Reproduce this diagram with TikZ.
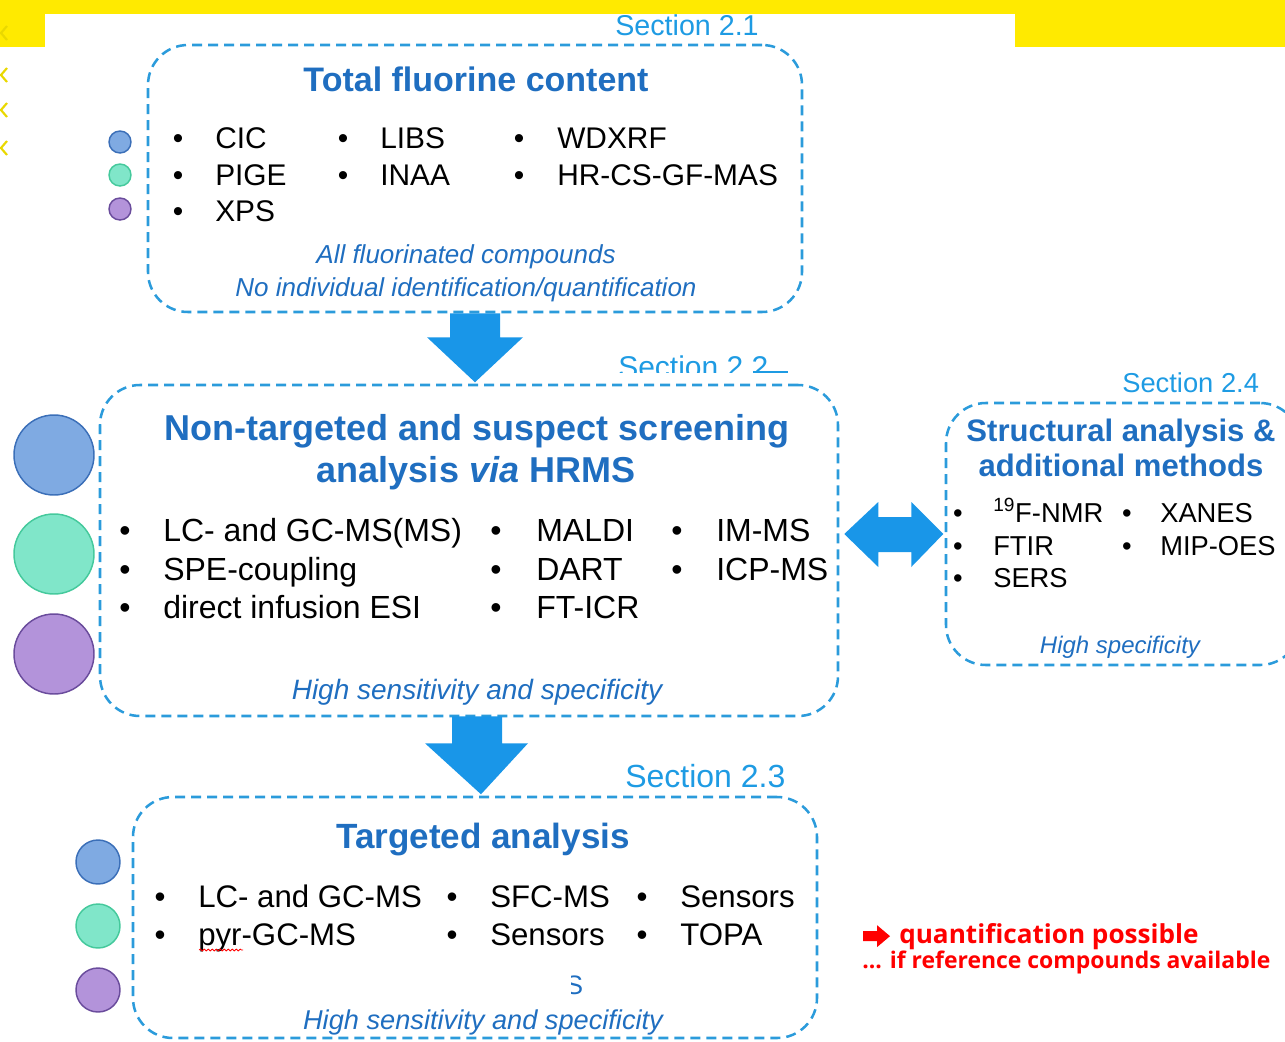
\documentclass[tikz,border=0pt]{standalone}
\usepackage{fontspec}
\setmainfont{Liberation Sans}
\newfontfamily\redfont{Open Sans}
\usetikzlibrary{decorations.pathmorphing}
\definecolor{dashblue}{HTML}{2B9BDB}
\definecolor{titleblue}{HTML}{1F6EC0}
\definecolor{secblue}{HTML}{1E9BE3}
\definecolor{arrowblue}{HTML}{1996E8}
\definecolor{headyellow}{HTML}{FFEA00}
\definecolor{ychev}{HTML}{E9D800}
\definecolor{cAfill}{HTML}{7FAAE2}\definecolor{cAline}{HTML}{3B6FB8}
\definecolor{cBfill}{HTML}{80E6C9}\definecolor{cBline}{HTML}{45C99C}
\definecolor{cCfill}{HTML}{B393DA}\definecolor{cCline}{HTML}{6A4C9C}
\begin{document}
\begin{tikzpicture}[x=0.75pt,y=-0.75pt,
  box/.style={draw=dashblue, line width=1.9pt, dash pattern=on 7.5pt off 4.5pt,
    rounded corners=30pt, rectangle, inner sep=0pt},
  sec/.style={text=secblue, font=\fontsize{21.5}{26}\selectfont, anchor=base west, inner sep=0pt},
  ttl/.style={text=titleblue, anchor=base, inner sep=0pt},
  ital/.style={text=titleblue, anchor=base, inner sep=0pt},
  itm/.style={anchor=base west, inner sep=0pt},
  bul/.style={anchor=base, inner sep=0pt},
  dotA/.style={circle, inner sep=0pt, fill=cAfill, draw=cAline, line width=1.1pt},
  dotB/.style={circle, inner sep=0pt, fill=cBfill, draw=cBline, line width=1.1pt},
  dotC/.style={circle, inner sep=0pt, fill=cCfill, draw=cCline, line width=1.1pt},
  fA/.style={font=\fontsize{22.4}{26}\selectfont},
  fB/.style={font=\fontsize{24}{28}\selectfont},
  fC/.style={font=\fontsize{23.4}{28}\selectfont},
  fD/.style={font=\fontsize{20.5}{24}\selectfont},
  blockarrow/.style={fill=arrowblue, draw=none}
]
\useasboundingbox (0,0) rectangle (1285,1042);
\clip (0,0) rectangle (1285,1042);

% yellow header
\fill[fill=headyellow] (0,0) rectangle (1285,14);
\fill[fill=headyellow] (0,0) rectangle (45,47);
\fill[fill=headyellow] (1015,0) rectangle (1285,47);
\foreach \yy in {33,75,110,148}
  \draw[draw=ychev, line width=1.6pt] (7,\yy-7) -- (1,\yy) -- (7,\yy+7);

% ---------------- Box 1
\node[box, minimum width=490.5pt, minimum height=200.25pt] (b1) at (475,178.5) {};
\node[sec] (s1) at (615,36) {Section 2.1};
\node[ttl, font=\bfseries\fontsize{25.5}{30}\selectfont] (t1) at (476,91) {Total fluorine content};
\begin{scope}[every node/.append style={fA}]
\node[bul] at (178,148) {•}; \node[itm] (cic) at (215,148) {CIC};
\node[bul] at (343,148) {•}; \node[itm] (libs) at (380,148) {LIBS};
\node[bul] at (519,148) {•}; \node[itm] (wdx) at (557,148) {WDXRF};
\node[bul] at (178,185) {•}; \node[itm] (pige) at (215,185) {PIGE};
\node[bul] at (343,185) {•}; \node[itm] (inaa) at (380,185) {INAA};
\node[bul] at (519,185) {•}; \node[itm] (hrcs) at (557,185) {HR-CS-GF-MAS};
\node[bul] at (178,221) {•}; \node[itm] (xps) at (215,221) {XPS};
\end{scope}
\node[ital, font=\itshape\fontsize{19.5}{24}\selectfont] (i1a) at (466,263) {All fluorinated compounds};
\node[ital, font=\itshape\fontsize{19.5}{24}\selectfont] (i1b) at (466,296) {No individual identification/quantification};
\node[dotA, minimum size=16.5pt] (d1a) at (120,142) {};
\node[dotB, minimum size=16.5pt] (d1b) at (120,175) {};
\node[dotC, minimum size=16.5pt] (d1c) at (120,209) {};

% ---------------- Box 2
\node[box, minimum width=553.5pt, minimum height=248.25pt] (b2) at (469,550.5) {};
\begin{scope}
  \clip (600,340) rectangle (800,372.5);
  \node[sec, font=\fontsize{22.5}{26}\selectfont] (s2) at (618,377) {Section 2.2};
\end{scope}
\draw[secblue, line width=1.2pt] (753,372) -- (788,372);
\node[ttl, font=\bfseries\fontsize{27}{32}\selectfont] (t2a) at (477,440) {Non-targeted and suspect screening};
\node[ttl, font=\bfseries\fontsize{27}{32}\selectfont] (t2b) at (476,482) {analysis \textit{via} HRMS};
\begin{scope}[every node/.append style={fB}]
\node[bul] at (125,541) {•}; \node[itm] at (163,541) {LC- and GC-MS(MS)};
\node[bul] at (496,541) {•}; \node[itm] at (536,541) {MALDI};
\node[bul] at (677,541) {•}; \node[itm] at (716,541) {IM-MS};
\node[bul] at (125,580) {•}; \node[itm] at (163,580) {SPE-coupling};
\node[bul] at (496,580) {•}; \node[itm] at (536,580) {DART};
\node[bul] at (677,580) {•}; \node[itm] at (716,580) {ICP-MS};
\node[bul] at (125,618) {•}; \node[itm] at (163,618) {direct infusion ESI};
\node[bul] at (496,618) {•}; \node[itm] at (536,618) {FT-ICR};
\end{scope}
\node[ital, font=\itshape\fontsize{21}{25}\selectfont] (i2) at (477,699) {High sensitivity and specificity};
\node[dotA, minimum size=60pt] (d2a) at (54,455) {};
\node[dotB, minimum size=60pt] (d2b) at (54,554) {};
\node[dotC, minimum size=60pt] (d2c) at (54,654) {};

% ---------------- Box 3
\node[box, minimum width=513pt, minimum height=180.75pt] (b3) at (475,917.5) {};
\node[sec, font=\fontsize{24}{28}\selectfont] (s3) at (625,787) {Section 2.3};
\node[ttl, font=\bfseries\fontsize{26.3}{30}\selectfont] (t3) at (483,848) {Targeted analysis};
\begin{scope}[every node/.append style={fC}]
\node[bul] at (160,907) {•}; \node[itm] at (198,907) {LC- and GC-MS};
\node[bul] at (452,907) {•}; \node[itm] at (490,907) {SFC-MS};
\node[bul] at (642,907) {•}; \node[itm] at (680,907) {Sensors};
\node[bul] at (160,945) {•}; \node[itm] (pyr) at (198,945) {pyr-GC-MS};
\node[bul] at (452,945) {•}; \node[itm] at (490,945) {Sensors};
\node[bul] at (642,945) {•}; \node[itm] at (680,945) {TOPA};
\end{scope}
\draw[red, line width=0.6pt, decorate, decoration={snake, amplitude=0.7pt, segment length=3pt}]
  (199,950) -- (243,950);
\begin{scope}
  \clip (571,965) rectangle (595,1000);
  \node[anchor=base west, inner sep=0pt, text=titleblue, font=\fontsize{20}{24}\selectfont] (frag) at (565,994) {S};
\end{scope}
\node[ital, font=\itshape\fontsize{20.4}{24}\selectfont] (i3) at (483,1029) {High sensitivity and specificity};
\node[dotA, minimum size=33pt] (d3a) at (98,862) {};
\node[dotB, minimum size=33pt] (d3b) at (98,926) {};
\node[dotC, minimum size=33pt] (d3c) at (98,990) {};

% ---------------- Box 4
\node[box, minimum width=265.5pt, minimum height=196.5pt] (b4) at (1123,534) {};
\node[sec, font=\fontsize{20.5}{24}\selectfont] (s4) at (1122,392) {Section 2.4};
\node[ttl, font=\bfseries\fontsize{23.3}{28}\selectfont] (t4a) at (1121,441) {Structural analysis \&};
\node[ttl, font=\bfseries\fontsize{23.3}{28}\selectfont] (t4b) at (1121,476) {additional methods};
\begin{scope}[every node/.append style={fD}]
\node[bul] at (958,522) {•}; \node[itm] at (993,522) {\textsuperscript{19}F-NMR};
\node[bul] at (1127,522) {•}; \node[itm] at (1160,522) {XANES};
\node[bul] at (958,555) {•}; \node[itm] at (993,555) {FTIR};
\node[bul] at (1127,555) {•}; \node[itm] at (1160,555) {MIP-OES};
\node[bul] at (958,587) {•}; \node[itm] at (993,587) {SERS};
\end{scope}
\node[ital, font=\itshape\fontsize{18}{22}\selectfont] (i4) at (1120,653) {High specificity};

% ---------------- block arrows
\fill[blockarrow, shift={(b1.south)}]
  (-25,0) -- (25,0) -- (25,24) -- (48,24) -- (0,69) -- (-48,24) -- (-25,24) -- cycle;
\fill[blockarrow, shift={(b2.south)}]
  (-17,-1) -- (33,-1) -- (33,26) -- (59,26) -- (12,77) -- (-44,26) -- (-17,26) -- cycle;
\fill[blockarrow, shift={(b2.east)}]
  (5,-16.5) -- (39,-48.5) -- (39,-33.5) -- (72,-33.5) -- (72,-48.5) -- (104,-16.5)
  -- (72,16.5) -- (72,1.5) -- (39,1.5) -- (39,16.5) -- cycle;

% ---------------- red note
\node[anchor=base west, inner sep=0pt, text=red, font=\redfont\bfseries\fontsize{19.6}{22}\selectfont] (q1) at (899,943)
  {quantification possible};
\node[anchor=base west, inner sep=0pt, text=red, font=\redfont\bfseries\fontsize{17.2}{20}\selectfont] (q2) at (862,968)
  {... if reference compounds available};
\fill[red, shift={(q1.west)}]
  (-36,-5) -- (-22,-5) -- (-22,-11) -- (-9,0) -- (-22,11) -- (-22,5) -- (-36,5) -- cycle;
\end{tikzpicture}
\end{document}
